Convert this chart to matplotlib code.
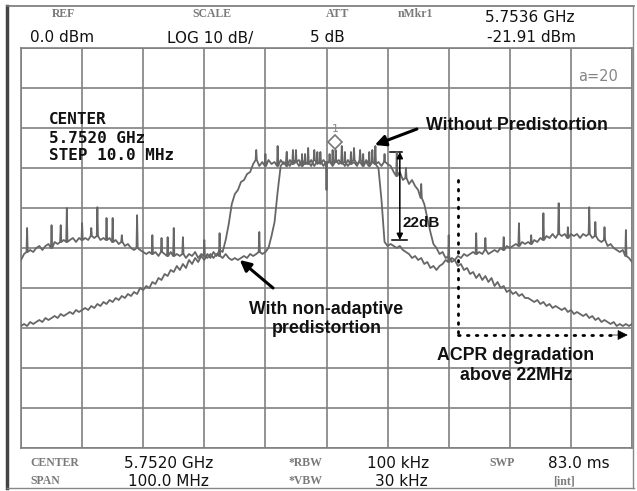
import numpy as np
import matplotlib
matplotlib.use("Agg")
import matplotlib.pyplot as plt
from matplotlib.lines import Line2D

# ---------------- data ----------------
# frequency offset from centre (MHz), 0.5 MHz sampling over the 100 MHz span
freq = np.linspace(-50, 50, 201)

# trace without predistortion (dBm)
without_pd = [
    -69.5, -69, -69.5, -68.5, -69, -68.5, -68, -68.5, -67.5, -68,
    -67.5, -67, -67.5, -66.5, -67, -66.5, -66, -66.5, -65.5, -66,
    -65.5, -65, -65.5, -64.5, -65, -64, -64.5, -63.5, -64, -63,
    -63.5, -62.5, -63, -62, -62.5, -61.5, -62, -61, -61.5, -60,
    -60.5, -59.5, -60, -58.5, -59, -57.5, -58, -56.5, -57, -55.5,
    -56, -54.5, -55.5, -54, -55, -53, -54, -52.5, -53.5, -52,
    -53, -51.5, -52.5, -51, -52, -50.5, -51, -48, -44, -39,
    -36.5, -35.5, -33.5, -33, -31.5, -31, -29, -28, -29.5, -28.5,
    -29.5, -28, -29, -28.5, -29.5, -28, -29, -28.5, -29.5, -28,
    -28.5, -29.5, -28, -29, -28.5, -29.5, -28, -29, -28.5, -29.5,
    -28.5, -28.5, -29, -28, -29, -28.5, -29.5, -28, -29, -28.5,
    -29.5, -28, -29, -28.5, -29.5, -28.5, -29, -28.5, -29.5, -28.5,
    -29, -29.5, -31, -32, -31, -33, -32.5, -34, -33, -34.5,
    -35.5, -37.5, -39, -42.5, -46, -49, -50, -51.5, -51, -52.5,
    -52, -53.5, -53, -54.5, -54, -55.5, -55, -56.5, -56, -57.5,
    -56.5, -58, -57, -58.5, -57.5, -59.5, -58.5, -60, -59.5, -61,
    -60.5, -61.5, -61, -62, -61.5, -62.5, -62.5, -63, -63.5, -63,
    -64, -63.5, -64.5, -64, -65, -64.5, -65, -65.5, -65, -66,
    -65.5, -66.5, -66, -66.5, -67, -66.5, -67.5, -67, -68, -67.5,
    -68.5, -68, -68.5, -69, -68.5, -69.5, -69, -69.5, -69, -69.5,
    -69,
]
without_pd_spike_f = [-11.5, -10, -8, -6.5, -5, -3.5, -2, -1, 0, 1, 2.5, 4,
                      5.5, 7, 8, 9.5, 11.5, 13, 15.5]
without_pd_spike_v = [-25.5, -26.5, -24.5, -26, -25.5, -26.5, -25.5, -26, -35.5,
                      -25.5, -24.5, -26, -25.5, -26, -24.5, -26.5, -26, -30, -34]

# trace with non-adaptive predistortion (dBm)
with_pd = [
    -53, -51.5, -51, -50.5, -51, -50, -49.5, -50.5, -49.5, -49,
    -50, -48.5, -49, -48.5, -48, -48.5, -48, -47.5, -48.5, -47.5,
    -48, -47.5, -48, -47, -47.5, -47, -48, -47.5, -48, -47.5,
    -48.5, -48, -49, -48.5, -49.5, -49, -50, -50.5, -50, -50.5,
    -51, -51.5, -51, -51.5, -51, -52, -51, -51.5, -52, -51,
    -52, -51.5, -52, -51.5, -52.5, -51.5, -52, -51, -52.5, -51.5,
    -52, -52.5, -51.5, -52.5, -51.5, -52, -52.5, -51.5, -52.5, -53,
    -52.5, -53, -52.5, -52, -52.5, -51.5, -52, -51.5, -51, -51.5,
    -51, -50, -47, -43.5, -36, -29.5, -28.5, -29.5, -28, -29,
    -28.5, -28, -29.5, -28.5, -29, -28, -29.5, -28.5, -29, -28,
    -29, -28.5, -29.5, -28.5, -28, -29, -28.5, -29.5, -28.5, -28,
    -29, -28.5, -29.5, -28, -29, -28.5, -29, -30, -38, -48.5,
    -49.5, -49, -49.5, -50, -49.5, -50.5, -51, -51.5, -52.5, -52,
    -53, -52.5, -54, -53.5, -55, -54.5, -55.5, -54.5, -54, -53,
    -53.5, -52.5, -53, -52, -52.5, -51.5, -52, -51.5, -51, -51.5,
    -51, -51.5, -50.5, -51.5, -51, -50.5, -51, -50, -50.5, -49.5,
    -50, -49.5, -49, -49.5, -48.5, -49, -48.5, -49, -48, -48.5,
    -47.5, -48, -47, -47.5, -46.5, -47.5, -46.5, -47, -46.5, -47.5,
    -46.5, -47, -46.5, -47.5, -46.5, -47, -46.5, -47.5, -47, -48,
    -48.5, -48, -49.5, -49, -50, -50.5, -51, -50.5, -52, -52.5,
    -53.5,
]
with_pd_spike_f = [-49, -45, -43.5, -42.5, -40, -38.5, -37.5, -36, -35, -33.5,
                   -31, -28.5, -27, -26, -25, -23.5, -20, -17.5, -11,
                   -6.5, -5.5, -4, -3, -1.5, 0.5, 1.5, 3, 4.5, 6, 7.5,
                   20, 24.5, 26, 29, 31.5, 33.5, 35.5, 38, 39.5, 43, 44, 45.5, 49]
with_pd_spike_v = [-45, -44.3, -44.3, -40, -43.8, -45, -39.8, -42.5, -42.5, -46.8,
                   -41.8, -46.8, -47.5, -47.3, -45, -47.3, -48, -46.3, -46,
                   -26, -25.5, -26.5, -25, -26, -26.5, -25.5, -26, -25, -26.5, -25.5,
                   -46.8, -46.3, -47.5, -47.3, -43.8, -46.8, -41.3, -38.8, -44.8,
                   -39.8, -43.5, -44.8, -45.5]

# marker 1
marker_freq = 1.4
marker_level = -23.5

# analyzer header / footer texts
hdr_labels = ["REF", "SCALE", "ATT", "nMkr1"]
hdr_values = ["0.0 dBm", "LOG 10 dB/", "5 dB"]
mkr_values = ["5.7536 GHz", "-21.91 dBm"]
ftr_labels = [["CENTER", "*RBW", "SWP"], ["SPAN", "*VBW", ""]]
ftr_values = [["5.7520 GHz", "100 kHz", "83.0 ms"], ["100.0 MHz", "30 kHz", "[int]"]]

# ---------------- figure ----------------
W, H = 637, 491
fig = plt.figure(figsize=(W / 100, H / 100), dpi=100)
fig.patch.set_facecolor("white")


def fx(px):
    return px / W


def fy(py):
    return 1 - py / H


ax = fig.add_axes([fx(21), fy(448), 611 / W, 400 / H])
ax.set_xlim(-50, 50)
ax.set_ylim(-100, 0)
ax.set_xticks(np.arange(-50, 51, 10))
ax.set_yticks(np.arange(-100, 1, 10))
ax.grid(True, color="#808080", lw=1.2)
ax.tick_params(length=0, labelleft=False, labelbottom=False)
for s in ax.spines.values():
    s.set_color("#808080")
    s.set_linewidth(1.2)


def build(levels, sf, sv):
    sp = {round(float(f), 1): v for f, v in zip(sf, sv)}
    xs, ys = [], []
    for f, v in zip(freq, levels):
        k = round(float(f), 1)
        if k in sp:
            xs += [f - 0.1, f, f + 0.1]
            ys += [v, sp[k], v]
        else:
            xs.append(f)
            ys.append(v)
    return xs, ys


trace_col = "#666666"
x1, y1 = build(without_pd, without_pd_spike_f, without_pd_spike_v)
x2, y2 = build(with_pd, with_pd_spike_f, with_pd_spike_v)
ax.plot(x1, y1, color=trace_col, lw=1.3, zorder=3)
ax.plot(x2, y2, color=trace_col, lw=1.3, zorder=3)

# marker diamond
ax.plot([marker_freq], [marker_level], marker="D", ms=7, mfc="white",
        mec="#777777", mew=1.2, zorder=4)
ax.text(marker_freq, marker_level + 3.2, "1", ha="center", va="center",
        fontsize=8, color="#888888", fontfamily="DejaVu Sans")

# in-plot texts
mono = dict(fontfamily="DejaVu Sans Mono", fontweight="bold", fontsize=11.5,
            color="#111111")
fig.text(fx(49), fy(120), "CENTER", va="center", ha="left", **mono)
fig.text(fx(49), fy(138.5), "5.7520 GHz", va="center", ha="left", **mono)
fig.text(fx(49), fy(156), "STEP 10.0 MHz", va="center", ha="left", **mono)
fig.text(fx(598), fy(77), "a=20", va="center", ha="center", fontsize=10.5,
         color="#858585", fontfamily="DejaVu Sans")

ann = dict(fontfamily="Liberation Sans", fontweight="bold", fontsize=12.8,
           color="#111111")
ax.text(16.3, -19.25, "Without Predistortion", ha="left", va="center", **ann)
ax.annotate("", xy=(7.9, -24.25), xytext=(14.8, -20.25),
            arrowprops=dict(arrowstyle="-|>", color="black", lw=2.2,
                            mutation_scale=16, shrinkA=0, shrinkB=0))
ax.text(0, -67.75, "With non-adaptive\npredistortion", ha="center", va="center",
        linespacing=1.15, **ann)
ax.annotate("", xy=(-14.2, -53), xytext=(-8.75, -60),
            arrowprops=dict(arrowstyle="-|>", color="black", lw=2.2,
                            mutation_scale=16, shrinkA=0, shrinkB=0))
ax.text(31, -79.4, "ACPR degradation\nabove 22MHz", ha="center", va="center",
        linespacing=1.2, **ann)

# 22 dB marker
ax.annotate("", xy=(12.0, -26), xytext=(12.0, -48),
            arrowprops=dict(arrowstyle="<|-|>", color="black", lw=1.1,
                            mutation_scale=9, shrinkA=0, shrinkB=0))
ax.plot([10.4, 12.4], [-26, -26], color="black", lw=1.1)
ax.plot([10.7, 13.2], [-48, -48], color="black", lw=1.1)
ax.text(15.5, -43.75, "22dB", ha="center", va="center",
        fontfamily="Liberation Sans", fontweight="bold", fontsize=11,
        color="#111111")

# ACPR dotted guides
ax.plot([21.5, 21.5], [-33, -73], color="black", lw=2.0,
        linestyle=(0, (0.6, 2.6)), dash_capstyle="round")
ax.plot([21.5, 47.5], [-71.75, -71.75], color="black", lw=2.0,
        linestyle=(0, (0.6, 2.6)), dash_capstyle="round")
ax.annotate("", xy=(49.3, -71.75), xytext=(46.8, -71.75),
            arrowprops=dict(arrowstyle="-|>", color="black", lw=0.5,
                            mutation_scale=16, shrinkA=0, shrinkB=0))

# header
lab = dict(fontfamily="Liberation Serif", fontweight="bold", fontsize=8.5,
           color="#7a7a7a", va="center")
val = dict(fontfamily="DejaVu Sans", fontsize=11, color="#111111", va="center")
for txt, px in zip(hdr_labels, [63, 212, 338, 415]):
    fig.text(fx(px), fy(14), txt, ha="center", **lab)
for txt, px in zip(hdr_values, [30, 167, 310]):
    fig.text(fx(px), fy(38), txt, ha="left", **val)
fig.text(fx(485), fy(17), mkr_values[0], ha="left", **val)
fig.text(fx(487), fy(38), mkr_values[1], ha="left", **val)

# footer
for row, py in zip(range(2), [463, 481]):
    for txt, px in zip(ftr_labels[row], [30, 289, 489]):
        if txt:
            fig.text(fx(px), fy(py), txt, ha="left", **lab)
for txt, px in zip(ftr_values[0], [124, 367, 548]):
    fig.text(fx(px), fy(463), txt, ha="left", **val)
for txt, px in zip(ftr_values[1], [128, 375, 553]):
    if txt == "[int]":
        fig.text(fx(px), fy(481), txt, ha="left", **lab)
    else:
        fig.text(fx(px), fy(481), txt, ha="left", **val)

# outer frame of the screen
fig.add_artist(Line2D([fx(7), fx(7)], [fy(6), fy(488)], color="#444444", lw=2.5))
fig.add_artist(Line2D([fx(7), fx(634)], [fy(6), fy(6)], color="#777777", lw=1.2))
fig.add_artist(Line2D([fx(633), fx(633)], [fy(6), fy(488)], color="#888888", lw=1.0))
fig.add_artist(Line2D([fx(7), fx(634)], [fy(488), fy(488)], color="#888888", lw=1.0))

fig.savefig("out.png", dpi=100, facecolor="white")
